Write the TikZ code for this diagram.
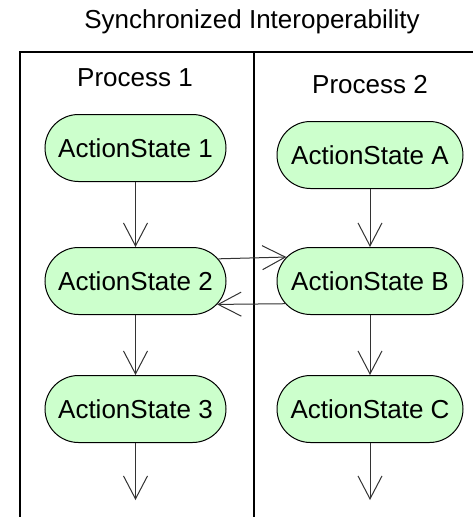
\documentclass[tikz,border=0pt]{standalone}
\usepackage{fontspec}
\setmainfont{Liberation Sans}
\usetikzlibrary{shapes.misc,arrows.meta}
\definecolor{stfill}{HTML}{CCFFCC}
\definecolor{arrcol}{HTML}{333333}
\begin{document}
\begin{tikzpicture}[x=1pt,y=-1pt,
  txt/.style={inner sep=0pt, font=\fontsize{26}{30}\selectfont},
  state/.style={rounded rectangle, draw=black, line width=1pt, fill=stfill,
    minimum height=67pt, inner sep=0pt, font=\fontsize{26}{30}\selectfont},
  flow/.style={draw=arrcol, line width=1pt,
    -{Straight Barb[length=23pt,width=24pt,line width=1pt]}},
  lane/.style={draw=black, line width=2pt}]
\useasboundingbox (0,0) rectangle (473,517);
% swimlanes
\draw[lane] (20,520) -- (20,51.5) -- (473,51.5);
\draw[lane] (254,51.5) -- (254,520);
% titles
\node[txt] (title) at (252,22) {Synchronized Interoperability};
\node[txt] (p1) at (135,78) {Process 1};
\node[txt] (p2) at (370,85) {Process 2};
% states
\node[state, minimum width=181pt] (s1) at (135.5,148) {ActionState 1};
\node[state, minimum width=181pt] (s2) at (135.5,281) {ActionState 2};
\node[state, minimum width=181pt] (s3) at (135.5,409) {ActionState 3};
\node[state, minimum width=186pt] (sa) at (370,155) {ActionState A};
\node[state, minimum width=186pt] (sb) at (370,281) {ActionState B};
\node[state, minimum width=186pt] (sc) at (370,409) {ActionState C};
\coordinate (e1) at (135.5,500);
\coordinate (e2) at (370,500);
% flows
\draw[flow] (s1.south) -- (s2.north);
\draw[flow] (s2.south) -- (s3.north);
\draw[flow] (s3.south) -- (e1);
\draw[flow] (sa.south) -- (sb.north);
\draw[flow] (sb.south) -- (sc.north);
\draw[flow] (sc.south) -- (e2);
\draw[flow] (s2.15.5) -- (sb.164.8);
\draw[flow] (sb.195.2) -- (s2.344.5);
\end{tikzpicture}
\end{document}
